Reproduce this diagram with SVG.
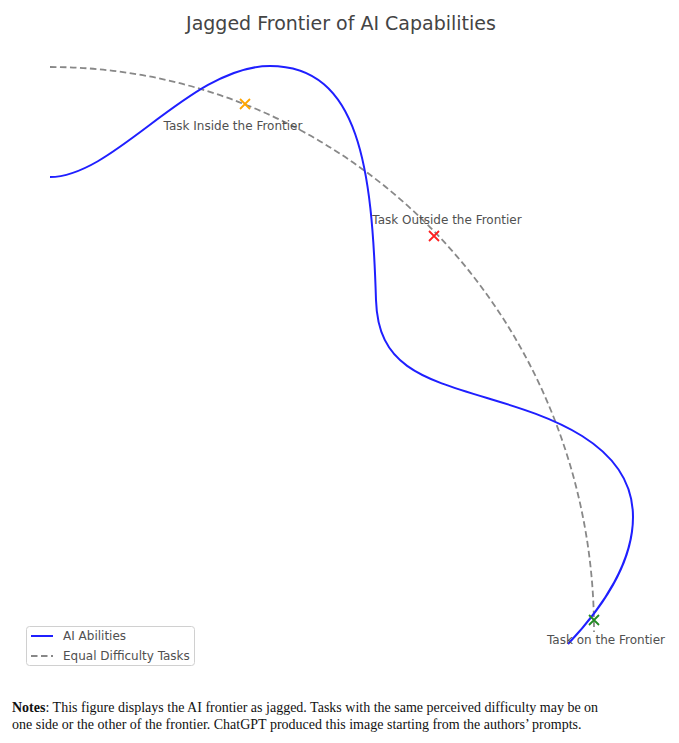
<svg xmlns="http://www.w3.org/2000/svg" width="679" height="743" viewBox="0 0 679 743">
<style>
.sans{font-family:"DejaVu Sans",sans-serif;fill:#444}
.lbl{font-size:12px;fill:#505050}
.serif{font-family:"Liberation Serif","Times New Roman",serif;fill:#111;font-size:14px}
.blue{fill:none;stroke:#1f1fff;stroke-width:2}
.dash{fill:none;stroke:#888;stroke-width:1.8;stroke-dasharray:6.5,3.5}
</style>
<rect width="679" height="743" fill="#fff"/>
<text class="sans" x="341" y="30" font-size="19" text-anchor="middle">Jagged Frontier of AI Capabilities</text>
<g id="connectors">
<path id="equal-difficulty" class="dash" d="M50,67 A544,563 0 0 1 594,632"/>
<path id="ai-abilities" class="blue" d="M50,177 C115,177 190,66 270,66 C360,66 372,170 376,300 C378,365 420,378 487,398 C540,414 633,440 633,517 C633,560 605,605 568,644"/>
</g>
<g id="task-inside">
<path d="M240,99 L250,109 M250,99 L240,109" stroke="#ffa500" stroke-width="1.8"/>
<text class="sans lbl" x="233" y="130" text-anchor="middle">Task Inside the Frontier</text>
</g>
<g id="task-outside">
<path d="M429,231 L439,241 M439,231 L429,241" stroke="#ff2020" stroke-width="1.8"/>
<text class="sans lbl" x="447" y="224" text-anchor="middle">Task Outside the Frontier</text>
</g>
<g id="task-on">
<path d="M589,615 L599,625 M599,615 L589,625" stroke="#228b22" stroke-width="1.8"/>
<text class="sans lbl" x="606" y="644" text-anchor="middle">Task on the Frontier</text>
</g>
<g id="legend">
<rect x="26.5" y="626.5" width="168" height="39" rx="3" fill="#fff" fill-opacity="0.8" stroke="#d0d0d0"/>
<line x1="31" y1="636" x2="53" y2="636" class="blue"/>
<text class="sans lbl" x="63" y="640">AI Abilities</text>
<line x1="31" y1="656" x2="53" y2="656" class="dash"/>
<text class="sans lbl" x="63" y="660">Equal Difficulty Tasks</text>
</g>
<g id="notes">
<text class="serif" x="12" y="712"><tspan font-weight="bold">Notes</tspan>: This figure displays the AI frontier as jagged. Tasks with the same perceived difficulty may be on</text>
<text class="serif" x="12" y="729">one side or the other of the frontier. ChatGPT produced this image starting from the authors’ prompts.</text>
</g>
</svg>
